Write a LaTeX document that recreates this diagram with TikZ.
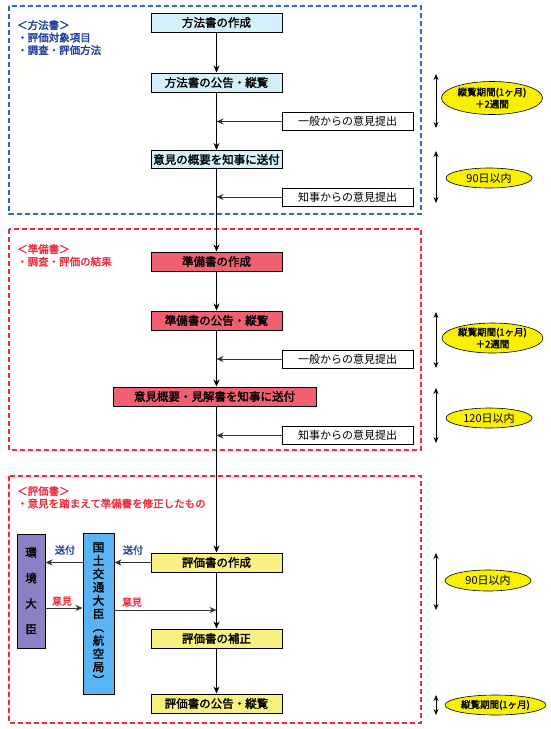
\documentclass[tikz,border=0pt]{standalone}
\usepackage{fontspec}
\setmainfont{Noto Sans CJK JP}[AutoFakeBold=2]
\usetikzlibrary{arrows.meta,shapes.geometric}
\definecolor{cyanfill}{HTML}{D4F0FA}
\definecolor{redfill}{HTML}{F06070}
\definecolor{yelfill}{HTML}{F8F080}
\definecolor{purpfill}{HTML}{8C80C4}
\definecolor{bluefill}{HTML}{58B4F4}
\definecolor{ellyel}{HTML}{F8F000}
\definecolor{dblue}{HTML}{2A66D0}
\definecolor{txtblue}{HTML}{1A3A9A}
\definecolor{dred}{HTML}{F02A3A}
\begin{document}
\begin{tikzpicture}[x=1pt,y=-1pt,
  mbox/.style={draw=black, line width=1pt, minimum width=131pt, minimum height=19pt, inner sep=0pt, font=\fontsize{11.5}{12}\selectfont\bfseries},
  cbox/.style={mbox, fill=cyanfill},
  rbox/.style={mbox, fill=redfill},
  ybox/.style={mbox, fill=yelfill},
  ibox/.style={draw=black, line width=0.8pt, fill=white, minimum width=131pt, minimum height=18pt, inner sep=0pt, font=\fontsize{11}{12}\selectfont},
  arr/.style={-{Stealth[length=7pt,width=6pt]}, line width=1pt},
  harr/.style={-{Stealth[length=7pt,width=6pt]}, line width=0.8pt, draw=black!80},
  dbl/.style={{Stealth[length=6pt,width=5pt]}-{Stealth[length=6pt,width=5pt]}, line width=0.8pt},
  ell/.style={ellipse, draw=black, line width=0.6pt, fill=ellyel, inner sep=0pt, align=center},
  frame/.style={dashed, dash pattern=on 5pt off 3pt, line width=1.2pt},
  lbl/.style={anchor=north west, align=left, inner sep=0pt, font=\fontsize{10.5}{12.5}\selectfont\bfseries},
  small/.style={inner sep=0pt, font=\fontsize{10}{11}\selectfont\bfseries}
]
\useasboundingbox (0,0) rectangle (550,729);
\fill[white] (0,0) rectangle (550,729);

% frames
\draw[frame, dblue] (9,6) rectangle (421,214);
\draw[frame, dred] (9,229) rectangle (421,450);
\draw[frame, dred] (9,476) rectangle (421,723);

% section labels
\node[lbl, text=txtblue] (lab1) at (17,20) {＜方法書＞\\・評価対象項目\\・調査・評価方法};
\node[lbl, text=dred] (lab2) at (17,244) {＜準備書＞\\・調査・評価の結果};
\node[lbl, text=dred] (lab3) at (17,486) {＜評価書＞\\・意見を踏まえて準備書を修正したもの};

% section 1
\node[cbox] (m1) at (216.5,22.5) {方法書の作成};
\node[cbox] (m2) at (216.5,82.5) {方法書の公告・縦覧};
\node[ibox] (i1) at (347.5,121.5) {一般からの意見提出};
\node[cbox, minimum height=18pt] (m3) at (216.5,159.5) {意見の概要を知事に送付};
\node[ibox] (i2) at (347.5,197) {知事からの意見提出};

% section 2
\node[rbox] (r1) at (216.5,261.5) {準備書の作成};
\node[rbox] (r2) at (216.5,320.5) {準備書の公告・縦覧};
\node[ibox] (i3) at (347.5,359) {一般からの意見提出};
\node[rbox, minimum width=203pt] (r3) at (214.5,396.5) {意見概要・見解書を知事に送付};
\node[ibox] (i4) at (347.5,435.5) {知事からの意見提出};

% section 3
\node[ybox] (y1) at (216.5,562.5) {評価書の作成};
\node[ybox] (y2) at (216.5,638.5) {評価書の補正};
\node[ybox] (y3) at (216.5,703.5) {評価書の公告・縦覧};
\node[draw=black, line width=1pt, fill=purpfill, minimum width=28pt, minimum height=114pt, inner sep=0pt, align=center, font=\fontsize{11.5}{25.5}\selectfont\bfseries] (env) at (31,591) {環\\境\\大\\臣};
\node[draw=black, line width=1pt, fill=bluefill, minimum width=31pt, minimum height=161pt, inner sep=0pt, align=center, font=\fontsize{11.5}{13.3}\selectfont\bfseries] (mlit) at (98.5,613.5) {国\\土\\交\\通\\大\\臣\\︵\\航\\空\\局\\︶};

% main flow
\draw[arr] (m1) -- (m2);
\draw[arr] (m2) -- (m3);
\draw[arr] (m3) -- (r1);
\draw[arr] (r1) -- (r2);
\draw[arr] (r2.south) -- (r2.south |- r3.north);
\draw[arr] (r3.south -| r1.south) -- (y1);
\draw[arr] (y1) -- (y2);
\draw[arr] (y2) -- (y3);

% inputs
\draw[harr] (i1.west) -- (i1.west -| m2.south);
\draw[harr] (i2.west) -- (i2.west -| m3.south);
\draw[harr] (i3.west) -- (i3.west -| r2.south);
\draw[harr] (i4.west) -- (i4.west -| r1.south);

% bottom exchanges
\draw[harr] (y1.west) -- (y1.west -| mlit.east);
\draw[harr] (y1.west -| mlit.west) -- (y1.west -| env.east);
\draw[harr] ([yshift=-17pt]env.east) -- ([yshift=-17pt]env.east -| mlit.west);
\draw[harr] ([yshift=3.5pt]mlit.east) -- ([yshift=3.5pt]mlit.east -| y2.north);
\node[small, text=txtblue] (s1) at (133,550) {送付};
\node[small, text=txtblue] (s2) at (65,550) {送付};
\node[small, text=dred] (o1) at (62,601) {意見};
\node[small, text=dred] (o2) at (132,602) {意見};

% right side durations
\coordinate (a1t) at (436,74); \coordinate (a1b) at (436,128);
\coordinate (a2t) at (436,151); \coordinate (a2b) at (436,203);
\coordinate (a3t) at (436,312); \coordinate (a3b) at (436,368);
\coordinate (a4t) at (436,388); \coordinate (a4b) at (436,443);
\coordinate (a5t) at (436,553); \coordinate (a5b) at (436,610);
\coordinate (a6t) at (436,695); \coordinate (a6b) at (436,715);
\draw[dbl] (a1t) -- (a1b);
\draw[dbl] (a2t) -- (a2b);
\draw[dbl] (a3t) -- (a3b);
\draw[dbl] (a4t) -- (a4b);
\draw[dbl] (a5t) -- (a5b);
\draw[dbl] (a6t) -- (a6b);
\node[ell, minimum width=101pt, minimum height=33pt, font=\fontsize{9.5}{12}\selectfont\bfseries] (e1) at (492,98) {縦覧期間(1ヶ月)\\＋2週間};
\node[ell, minimum width=86pt, minimum height=20pt, font=\fontsize{11}{12}\selectfont] (e2) at (489,178) {90日以内};
\node[ell, minimum width=101pt, minimum height=30pt, font=\fontsize{9.5}{12}\selectfont\bfseries] (e3) at (492.5,338) {縦覧期間(1ヶ月)\\＋2週間};
\node[ell, minimum width=86pt, minimum height=20pt, font=\fontsize{11}{12}\selectfont] (e4) at (489,418) {120日以内};
\node[ell, minimum width=86pt, minimum height=21pt, font=\fontsize{11}{12}\selectfont] (e5) at (488,580.5) {90日以内};
\node[ell, minimum width=101pt, minimum height=20pt, font=\fontsize{9.5}{12}\selectfont\bfseries] (e6) at (495.5,705) {縦覧期間(1ヶ月)};
\end{tikzpicture}
\end{document}
